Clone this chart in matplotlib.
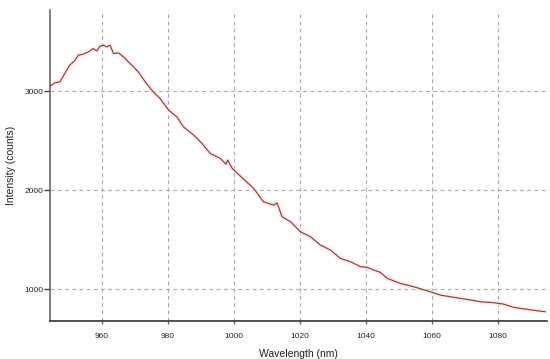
import matplotlib
matplotlib.use("Agg")
import matplotlib.pyplot as plt

# spectrum
wavelength = [944.2, 945.7, 947.2, 948.7, 950.2, 951.8, 952.8, 954.3, 955.8, 957.3,
              958.4, 959.4, 960.4, 961.4, 962.4, 963.5, 965.0, 966.5, 968.0, 969.5,
              971.0, 973.1, 975.1, 977.6, 980.2, 982.7, 984.7, 987.8, 990.3, 992.8,
              995.9, 997.6, 998.1, 999.5, 1002.0, 1006.0, 1009.0, 1012.1, 1013.1, 1014.6,
              1017.2, 1020.2, 1023.2, 1026.3, 1029.3, 1032.3, 1035.4, 1038.4, 1040.4, 1042.4,
              1044.4, 1046.5, 1050.5, 1054.5, 1058.6, 1062.6, 1066.7, 1070.7, 1074.8, 1078.8,
              1081.8, 1084.9, 1088.9, 1091.9, 1094.4]
intensity = [3050, 3084, 3094, 3179, 3263, 3313, 3364, 3374, 3397, 3431,
             3407, 3455, 3465, 3448, 3465, 3381, 3387, 3347, 3296, 3246,
             3195, 3094, 3010, 2926, 2808, 2740, 2639, 2556, 2472, 2371,
             2320, 2262, 2303, 2219, 2140, 2017, 1882, 1848, 1872, 1731,
             1680, 1579, 1529, 1444, 1394, 1310, 1276, 1226, 1220, 1192,
             1170, 1108, 1057, 1024, 983, 939, 916, 896, 872, 862,
             848, 815, 795, 781, 771]

x_ticks = [960, 980, 1000, 1020, 1040, 1060, 1080]
y_ticks = [1000, 2000, 3000]

plt.rcParams['font.family'] = ['Liberation Sans', 'DejaVu Sans']

fig = plt.figure(figsize=(5.5, 3.59), dpi=100)
ax = fig.add_axes([0.0909, 0.1067, 0.9036, 0.8653])

ax.plot(wavelength, intensity, color='#ffe0f0', linewidth=3.5, alpha=0.6, zorder=2)
ax.plot(wavelength, intensity, color='#8a4228', linewidth=0.85, zorder=3)

ax.set_xlim(944.2, 1095)
ax.set_ylim(680, 3820)
ax.set_xticks(x_ticks)
ax.set_yticks(y_ticks)
ax.grid(True, color='#aaaaaa', linestyle=(0, (3.5, 3)), linewidth=0.8)
ax.set_axisbelow(True)

for side in ('top', 'right'):
    ax.spines[side].set_visible(False)
ax.spines['left'].set_color('#666666')
ax.spines['left'].set_linewidth(1.2)
ax.spines['bottom'].set_color('#333333')
ax.spines['bottom'].set_linewidth(1.2)

ax.tick_params(axis='y', length=4, width=1, color='#444444', labelsize=6, labelcolor='#222222', pad=1)
ax.tick_params(axis='x', length=2, width=1, color='#666666', labelsize=6, labelcolor='#222222', pad=7)

ax.set_xlabel('Wavelength (nm)', fontsize=7.5, color='#222222', labelpad=6)
ax.set_ylabel('Intensity (counts)', fontsize=7.5, color='#222222', labelpad=6)

fig.savefig('out.png', dpi=100)
